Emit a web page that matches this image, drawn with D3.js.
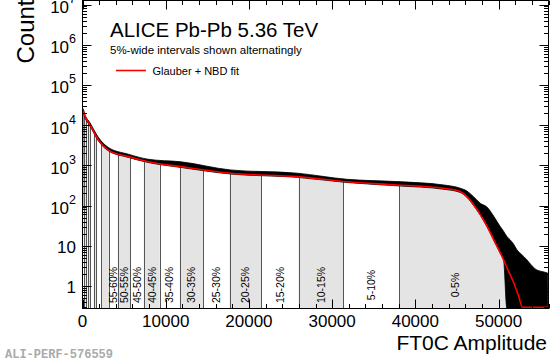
<!DOCTYPE html>
<html>
<head>
<meta charset="utf-8">
<script src="https://cdn.jsdelivr.net/npm/d3@7"></script>
<style>
  body { margin: 0; background: #fff; }
  svg { display: block; font-family: "Liberation Sans", Arial, sans-serif; }
</style>
</head>
<body>
<svg id="chart" width="556" height="364"></svg>
<script>
// measured histogram envelope (upper / lower edge of the black noisy band)
const histAmp = [0, 40, 300, 900, 1900, 3100, 5500, 7900, 11800, 17800, 25800, 31800, 37800, 43400, 45400, 46200, 47000, 47800, 48600, 49400, 50200, 50600, 51000, 51400, 51800, 52200, 52800, 53400, 54000, 54600, 55200, 55900];
const histHi = [26000, 26000, 18000, 11500, 5000, 2800, 1900, 1420, 1230, 770, 640, 450, 395, 326, 270, 230, 165, 114, 92, 55, 30, 23, 17, 14, 11, 8, 6, 4.5, 3.2, 2.5, 2.3, 2.1];
const histLo = [0.1, 20000, 15000, 9500, 4100, 2300, 1580, 1180, 890, 610, 505, 375, 310, 255, 212, 160, 100, 58, 30, 14, 6.5, 4.5, 0.1, 0.1, 0.1, 0.1, 0.1, 0.1, 0.1, 0.1, 0.1, 0.1];

// Glauber + NBD fit
const fitAmp = [0, 30, 400, 920, 1900, 3100, 5500, 7900, 11770, 17770, 25800, 31800, 37800, 43390, 45430, 46240, 47030, 47840, 48640, 49440, 50240, 51040, 51840, 52440, 52850, 56000];
const fitCount = [80, 22000, 15000, 10000, 4300, 2400, 1650, 1230, 930, 635, 525, 390, 325, 269, 222, 166, 103, 58, 30, 13.9, 6.5, 2.76, 1.17, 0.54, 0.28, 0.01];

// centrality class edges (0%, 5%, 10%, ... 100%)
const centEdges = [51650, 38050, 31300, 25970, 21450, 17680, 14490, 11680, 9280, 7360, 5760, 4240, 3160, 2250, 1660, 1340, 940, 620, 400, 200, 0];
const centLabels = ['0-5%', '5-10%', '10-15%', '15-20%', '20-25%', '25-30%', '30-35%', '35-40%', '40-45%', '45-50%', '50-55%', '55-60%'];

const xTicks = [0, 10000, 20000, 30000, 40000, 50000];
const yTicks = [1, 10, 1e2, 1e3, 1e4, 1e5, 1e6, 1e7];

const pLeft = 82.5, pRight = 548.5, pTop = 0.5, pBottom = 308.5;

const x = d3.scaleLinear().domain([0, 56000]).range([pLeft, pRight]);
const y = d3.scaleLog().domain([0.275, 1.265e7]).range([pBottom, pTop]).clamp(true);

const svg = d3.select('#chart');
const defs = svg.append('defs');

defs.append('clipPath').attr('id', 'plot')
    .append('rect')
    .attr('x', pLeft).attr('y', pTop)
    .attr('width', pRight - pLeft).attr('height', pBottom - pTop);

// area under the histogram, used to clip the centrality bands
const underArea = d3.area()
    .x((d, i) => x(histAmp[i]))
    .y0(pBottom)
    .y1(d => y(d))
    .curve(d3.curveMonotoneX);

defs.append('clipPath').attr('id', 'under')
    .append('path')
    .attr('d', underArea(histHi));

const plot = svg.append('g').attr('clip-path', 'url(#plot)');
const bands = plot.append('g').attr('clip-path', 'url(#under)');

const bandData = d3.range(centEdges.length - 1).map(i => ({i, hi: centEdges[i], lo: centEdges[i + 1]}));

bands.selectAll('rect.band')
    .data(bandData.filter(d => d.i % 2 === 0))
    .enter()
    .append('rect')
    .attr('class', 'band')
    .attr('x', d => x(d.lo))
    .attr('width', d => x(d.hi) - x(d.lo))
    .attr('y', pTop)
    .attr('height', pBottom - pTop)
    .attr('fill', '#e4e4e4');

bands.selectAll('line.edge')
    .data(centEdges.slice(0, -1))
    .enter()
    .append('line')
    .attr('class', 'edge')
    .attr('x1', d => Math.round(x(d)) + 0.5)
    .attr('x2', d => Math.round(x(d)) + 0.5)
    .attr('y1', pTop)
    .attr('y2', pBottom)
    .attr('stroke', '#555')
    .attr('stroke-width', 1);

// centrality labels
plot.selectAll('text.cent')
    .data(centLabels)
    .enter()
    .append('text')
    .attr('class', 'cent')
    .attr('transform', (d, i) => `translate(${x((centEdges[i] + centEdges[i + 1]) / 2)},285) rotate(-90)`)
    .attr('text-anchor', 'middle')
    .attr('dy', '0.36em')
    .attr('font-size', 10.5)
    .text(d => d);

// the data band
const histArea = d3.area()
    .x((d, i) => x(histAmp[i]))
    .y0((d, i) => y(histLo[i]))
    .y1(d => y(d))
    .curve(d3.curveMonotoneX);

plot.append('path')
    .attr('d', histArea(histHi))
    .attr('fill', '#000')
    .attr('stroke', '#000')
    .attr('stroke-width', 0.8);

// the fit, kept just above the lower frame where it runs off scale
const fitLine = d3.line()
    .x((d, i) => x(fitAmp[i]))
    .y(d => Math.min(y(d), pBottom - 1.2))
    .curve(d3.curveMonotoneX);

svg.append('path')
    .attr('d', fitLine(fitCount))
    .attr('clip-path', 'url(#plot)')
    .attr('fill', 'none')
    .attr('stroke', '#ff0000')
    .attr('stroke-width', 1.6);

// frame
svg.append('rect')
    .attr('x', pLeft).attr('y', pTop)
    .attr('width', pRight - pLeft).attr('height', pBottom - pTop)
    .attr('fill', 'none')
    .attr('stroke', '#000')
    .attr('stroke-width', 1);

// ticks on all four sides, pointing inward
const ticks = svg.append('g').attr('stroke', '#000').attr('stroke-width', 1);
const xMinor = d3.range(0, 56001, 2000);
xMinor.forEach(v => {
    const major = v % 10000 === 0;
    const len = major ? 9 : 4.5;
    const px = Math.round(x(v)) + 0.5;
    ticks.append('line').attr('x1', px).attr('x2', px).attr('y1', pBottom).attr('y2', pBottom - len);
    ticks.append('line').attr('x1', px).attr('x2', px).attr('y1', pTop).attr('y2', pTop + len);
});
const yMinor = [];
[0.1, 1, 10, 1e2, 1e3, 1e4, 1e5, 1e6, 1e7].forEach(dec => {
    for (let m = 1; m <= 9; m++) {
        const v = dec * m;
        if (v >= 0.275 && v <= 1.265e7) yMinor.push({v, major: m === 1});
    }
});
yMinor.forEach(t => {
    const len = t.major ? 9 : 4.5;
    const py = Math.round(y(t.v)) + 0.5;
    ticks.append('line').attr('x1', pLeft).attr('x2', pLeft + len).attr('y1', py).attr('y2', py);
    ticks.append('line').attr('x1', pRight).attr('x2', pRight - len).attr('y1', py).attr('y2', py);
});

// tick labels
svg.selectAll('text.xl')
    .data(xTicks)
    .enter()
    .append('text')
    .attr('class', 'xl')
    .attr('x', d => x(d))
    .attr('y', 327)
    .attr('text-anchor', 'middle')
    .attr('font-size', 17)
    .text(d => d);

yTicks.forEach(v => {
    const e = Math.round(Math.log10(v));
    const t = svg.append('text')
        .attr('x', 76)
        .attr('text-anchor', 'end')
        .attr('font-size', 17);
    if (e < 2) {
        t.attr('y', y(v) + 7).text(v);
    } else {
        t.attr('y', y(v) + 8.5);
        t.append('tspan').text('10');
        t.append('tspan').attr('font-size', 12.5).attr('dy', -10).text(e);
    }
});

// axis titles
svg.append('text')
    .attr('transform', 'translate(33.5,63.5) rotate(-90)')
    .attr('font-size', 24)
    .text('Counts');

svg.append('text')
    .attr('x', 547)
    .attr('y', 350)
    .attr('text-anchor', 'end')
    .attr('font-size', 21)
    .text('FT0C Amplitude');

// header texts and legend
svg.append('text')
    .attr('x', 110).attr('y', 37)
    .attr('font-size', 20.5)
    .text('ALICE Pb-Pb 5.36 TeV');

svg.append('text')
    .attr('x', 110).attr('y', 53.5)
    .attr('font-size', 11.5)
    .text('5%-wide intervals shown alternatingly');

svg.append('line')
    .attr('x1', 116).attr('x2', 146)
    .attr('y1', 70.5).attr('y2', 70.5)
    .attr('stroke', '#ff0000')
    .attr('stroke-width', 1.6);

svg.append('text')
    .attr('x', 152.5).attr('y', 74.5)
    .attr('font-size', 11)
    .text('Glauber + NBD fit');

svg.append('text')
    .attr('x', 5).attr('y', 357.5)
    .attr('font-family', '"Liberation Mono", "DejaVu Sans Mono", monospace')
    .attr('font-weight', 'bold')
    .attr('font-size', 12)
    .attr('fill', '#aaa')
    .text('ALI-PERF-576559');
</script>
</body>
</html>
